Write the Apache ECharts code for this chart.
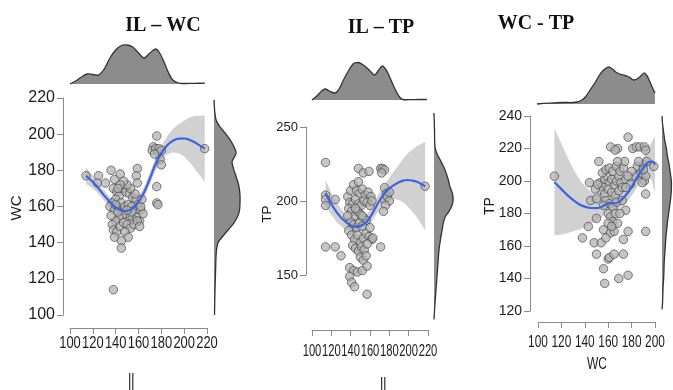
<!DOCTYPE html>
<html><head><meta charset="utf-8">
<script src="https://cdn.jsdelivr.net/npm/echarts@6/dist/echarts.min.js"></script>
<style>html,body{margin:0;padding:0;background:#fff}#c{width:673px;height:390px}</style>
</head><body><div id="c"></div>
<script>
// ---------- titles / names ----------
const titles = ['IL – WC', 'IL – TP', 'WC - TP'];
const xNames = ['IL', 'IL', 'WC'];
const yNames = ['WC', 'TP', 'TP'];

// ---------- scatter data ----------
const ilWc = [[114,177],[125,177],[124,173],[131,173],[136,180],[139,175],[144,178],[138,170],[141,168],[143,166],[146,170],[149,168],[152,167],[155,165],[158,164],[140,164],[137,162],[135,160],[139,158],[142,160],[145,162],[148,160],[151,161],[154,160],[157,158],[160,161],[162,158],[164,156],[161,152],[158,154],[155,153],[152,155],[149,156],[146,155],[143,154],[140,152],[137,150],[136,155],[138,147],[141,146],[139,143],[144,149],[147,151],[150,150],[153,148],[156,150],[159,152],[161,149],[148,146],[151,143],[145,141],[145,137],[138,114],[159,181],[158,177],[159,173],[162,160],[163,164],[157,167],[153,170],[150,172],[147,174],[144,172],[142,170],[176,199],[173,193],[172,191],[175,192],[177,190],[178,192],[180,191],[179,186],[180,183],[176,171],[176,162],[177,161],[218,192],[174,189],[154,157],[150,158],[142,157],[140,161]];
const ilTp = [[114,226],[114,204],[114,201],[114,197],[124,201],[114,169],[124,169],[130,163],[148,222],[153,219],[159,220],[171,222],[173,222],[175,221],[172,219],[175,209],[177,205],[175,201],[178,203],[180,200],[176,197],[174,193],[180,206],[171,169],[217,210],[137,203],[140,207],[143,211],[146,207],[149,205],[152,208],[155,204],[158,206],[161,203],[139,199],[142,198],[145,201],[148,198],[151,197],[154,200],[157,199],[160,197],[162,200],[138,195],[141,193],[144,190],[147,193],[150,191],[153,189],[156,187],[140,186],[143,184],[146,182],[149,185],[152,183],[138,180],[141,177],[144,174],[147,177],[150,172],[153,175],[156,178],[159,176],[162,174],[142,170],[145,168],[148,166],[151,169],[154,167],[157,171],[150,162],[153,160],[156,163],[139,155],[143,153],[147,152],[152,153],[157,156],[139,149],[141,145],[144,142],[157,137],[163,175],[160,182],[148,213],[152,190],[145,195],[137,190]];
const wcTp = [[114,203],[138,165],[144,199],[145,188],[143,172],[150,177],[150,155],[148,162],[152,212],[150,189],[154,162],[156,170],[156,146],[157,137],[160,152],[161,153],[165,155],[169,140],[173,155],[173,164],[177,142],[177,169],[175,182],[192,169],[192,192],[199,209],[162,221],[168,220],[166,219],[177,227],[181,220],[184,221],[187,221],[191,221],[192,219],[185,209],[188,205],[190,210],[191,200],[192,203],[189,199],[183,203],[186,212],[180,206],[193,212],[190,207],[153,199],[155,197],[157,201],[159,203],[161,199],[163,201],[165,197],[167,200],[169,203],[171,199],[155,205],[158,207],[161,208],[164,206],[167,209],[170,206],[173,208],[154,194],[157,192],[160,195],[163,193],[166,191],[169,194],[172,196],[158,188],[161,186],[164,184],[167,187],[160,180],[162,178],[164,175],[166,180],[168,174],[160,174],[162,168],[165,169],[158,165],[163,172],[175,201],[177,203],[179,198],[172,188],[170,180],[175,196],[149,195],[151,198],[156,185],[174,212],[168,212]];

// ---------- loess fits: x, fitted y, half width of band ----------
const fit1X = [114,120,125,130,135,140,145,150,155,160,165,170,175,180,185,190,195,200,205,210,215,218];
const fit1Y = [177,173.5,170,166,162.5,159.5,157.8,157.5,159,162.5,168,175.5,183.5,189.5,193.8,196.3,197.5,197.6,196.8,195.2,193.2,192];
const fit1H = [4.5,3.5,3,2.8,2.6,2.5,2.5,2.5,2.6,2.8,3,3.3,3.6,4,5,6.5,8,10,12.5,15,17,18.5];
const fit2X = [114,120,126,132,139,144.5,150,155,160,167,172,176,182,188,194,199,204,208.5,213,217];
const fit2Y = [205.4,198,192,187.5,184,182.6,183.2,185,189,197,202.5,206,209.5,212,213.8,214.2,213.8,213,211.5,210];
const fit2H = [9,7.5,6.5,5.5,4.5,4.2,4.2,4.5,5,5.5,5.5,6,8,11,14.5,18,21,24,27,30];
const fit3X = [114,120,125.6,131,136.8,145,150,154,158,161,164,168.9,172,176.6,181,185,189,192,195,197.7,200];
const fit3Y = [199.4,195,191,187.8,185,183.4,183.3,184,185.5,186.5,186.2,187,189,192.6,197.5,202.5,207,210,211.8,212,210];
const fit3H = [33,28,23,18.5,14.5,10,8,6.5,5.5,5,4.8,4.8,5,5.2,5.5,6,6.5,7.5,9.5,12.5,18];

// ---------- marginal densities: [value, relative height] ----------
const top1 = [[100,0],[105,3],[110,7],[115,10],[120,9.5],[125,9],[130,15],[135,26],[140,34],[145,38.5],[150,39],[155,37],[160,31],[165,26],[170,31],[175,35],[178,32],[182,23],[186,12],[190,4],[195,1],[200,0.5],[210,0.7],[218,0.8]];
const right1 = [[219,0],[214,0.5],[208,2],[204,6],[200.7,11],[197,16],[193,20],[189.6,22],[186,19],[184.6,18],[182,19],[180,20],[175,23],[171,25],[166,26],[162,26],[158,25.5],[155,24],[151,20],[147,14],[143,8],[140,4],[136,2.5],[132,2],[123,1.5],[114,1],[100,0.5]];
const top2 = [[100,0],[105,4],[110,9],[113.5,11],[118,9],[124,7],[128,11],[132,19],[137,28],[142.5,36],[147,37.5],[151.5,36],[155,33.5],[158,31],[162,27],[165,25],[169,30],[173,34],[176,31],[179,26],[183,17],[188,7],[191,2.5],[194,0.5],[200,0.3],[210,0.5],[219,0.5]];
const right2 = [[259.5,0],[248,0.5],[236.5,1],[232,3],[228,6],[224,9],[221,11],[215,14],[209.5,16],[206,18],[203,19],[200,19],[197,18],[193,15],[189,11],[184,9],[180,8],[174,6.5],[167,5],[158,4],[149,3],[140,2],[131,1],[120,0]];
const top3 = [[100,0],[110,0.8],[122,1.5],[130,1.5],[134,2],[138,4],[141,7],[145,14],[149.6,22],[153,29],[156.5,34],[160.7,37],[164,35],[166.6,32],[170,30],[173.5,29],[178,27],[182,24],[186,26],[190.6,31],[193,28.5],[195,24],[197.5,17],[200,11]];
const right3 = [[240,0],[235,1],[230,3],[225,5],[220,8],[215,10],[210,13],[205,15],[200,17],[195,17],[190,16],[185,14],[180,12],[175,10],[170,8.5],[165,7],[160,6],[155,5],[150,4],[145,3.5],[140,3],[135,2],[130,1.5],[125,1],[121,0]];

// ---------- tick ranges [min, max, step] ----------
const xRange = [[100,220,20],[100,220,20],[100,200,20]];
const yRange = [[100,220,20],[150,250,50],[120,240,20]];

const chart = echarts.init(document.getElementById('c'));
const AX = '#8a8a8a', TXT = '#1c1c1c';
const SANS = '"Liberation Sans",Arial,sans-serif';

const grids = [
  {left:70, top:98, width:137, height:217},   // 0 p1 scatter
  {left:70, top:43, width:137, height:41},    // 1 p1 top
  {left:214, top:98, width:28, height:217},   // 2 p1 right
  {left:312, top:127, width:116, height:148}, // 3 p2 scatter
  {left:312, top:60, width:116, height:40},   // 4 p2 top
  {left:434, top:127, width:20, height:148},  // 5 p2 right
  {left:538, top:116, width:117, height:195}, // 6 p3 scatter
  {left:537, top:65, width:118, height:39},   // 7 p3 top
  {left:662, top:116, width:20, height:195}   // 8 p3 right
];

const xOff = [13, 55, 11], yOff = [7, 6, 8];
const yFs = [16, 13, 14];
// x tick label look (condensed): font size, horizontal squeeze, distance below axis line
const xLabFs = [17, 16, 16.5], xLabSx = [0.76, 0.7, 0.72], xLabDy = [15, 22, 20];
const xAxes = [], yAxes = [];
function mainX(p, gi){
  const r = xRange[p];
  return {type:'value', gridIndex:gi, min:r[0], max:r[1], interval:r[2], offset:xOff[p],
    axisLine:{show:true, onZero:false, lineStyle:{color:AX}},
    axisTick:{show:true, length:6, lineStyle:{color:AX}},
    axisLabel:{show:false},
    splitLine:{show:false}};
}
function mainY(p, gi){
  const r = yRange[p];
  return {type:'value', gridIndex:gi, min:r[0], max:r[1], interval:r[2], offset:yOff[p],
    axisLine:{show:true, onZero:false, lineStyle:{color:AX}},
    axisTick:{show:true, length:6, lineStyle:{color:AX}},
    axisLabel:{color:TXT, fontSize:yFs[p], fontFamily:SANS, margin:8},
    splitLine:{show:false}};
}
function hid(gi, min, max){
  return {type:'value', gridIndex:gi, min, max, show:false, splitLine:{show:false}};
}
const topMax = [41, 40, 39], rightW = [28, 20, 20];
for (let p = 0; p < 3; p++) {
  const g = 3*p;
  xAxes.push(mainX(p, g)); yAxes.push(mainY(p, g));
  xAxes.push(hid(g+1, xRange[p][0], xRange[p][1])); yAxes.push(hid(g+1, 0, topMax[p]));
  xAxes.push(hid(g+2, 0, rightW[p])); yAxes.push(hid(g+2, yRange[p][0], yRange[p][1]));
}

function areaSeries(idx, pts, curve, fill, stroke, z){
  return {type:'custom', xAxisIndex:idx, yAxisIndex:idx, clip:false, silent:true, z:z,
    data: pts, encode:{x:0, y:1},
    renderItem: function(params, api){
      if (params.dataIndex !== 0) return null;
      const P = pts.map(q => api.coord(q));
      const children = [{type:'polygon', shape:{points:P}, style:{fill:fill, stroke:null}}];
      if (stroke) {
        const C = curve.map(q => api.coord(q));
        children.push({type:'polyline', shape:{points:C, smooth:0.35}, style:{stroke:stroke, lineWidth:1.3, fill:null}});
      }
      return {type:'group', children:children};
    }};
}

const series = [];
const scat = [ilWc, ilTp, wcTp];
const fits = [[fit1X,fit1Y,fit1H],[fit2X,fit2Y,fit2H],[fit3X,fit3Y,fit3H]];
const tops = [top1, top2, top3];
const rights = [right1, right2, right3];
for (let p = 0; p < 3; p++) {
  const g = 3*p;
  const [fx, fy, fh] = fits[p];
  const up = fx.map((x,i) => [x, fy[i] + fh[i]]);
  const lo = fx.map((x,i) => [x, fy[i] - fh[i]]).reverse();
  series.push(areaSeries(g, up.concat(lo), null, 'rgba(190,190,190,0.7)', null, 1));
  series.push({type:'scatter', xAxisIndex:g, yAxisIndex:g, data:scat[p], symbol:'circle', symbolSize:8.5, clip:false,
    itemStyle:{color:'rgba(178,178,178,0.92)', borderColor:'#3a3a3a', borderWidth:0.8}, z:2, silent:true});
  series.push({type:'line', xAxisIndex:g, yAxisIndex:g, data:fx.map((x,i)=>[x, fy[i]]), smooth:0.4, showSymbol:false,
    lineStyle:{color:'#3b63e0', width:2.2}, z:3, silent:true});
  const t = tops[p];
  const tPoly = [[t[0][0],0]].concat(t, [[t[t.length-1][0],0]]);
  series.push(areaSeries(g+1, tPoly, t, '#8c8c8c', '#333', 2));
  const r = rights[p].map(q => [q[1], q[0]]);
  const rPoly = [[0, r[0][1]]].concat(r, [[0, r[r.length-1][1]]]);
  series.push(areaSeries(g+2, rPoly, r, '#8c8c8c', '#333', 2));
}

const titlePos = [[163,25],[381,27],[536,23]];
const yNamePos = [[17,208],[267,214],[490,206]];
const yNameFs = [15, 13.5, 14];
function baseGraphics(){
  const gr = [];
  for (let p = 0; p < 3; p++) {
    gr.push({type:'text', x:titlePos[p][0], y:titlePos[p][1], scaleY:1.1, style:{text:titles[p], fill:'#111',
      font:'bold 20px "Liberation Serif","Times New Roman",serif', align:'center', verticalAlign:'middle'}});
    gr.push({type:'text', x:yNamePos[p][0], y:yNamePos[p][1], rotation:Math.PI/2, style:{text:yNames[p], fill:TXT,
      font: yNameFs[p] + 'px ' + SANS, align:'center', verticalAlign:'middle'}});
  }
  // x axis names (first two are cut by the bottom edge as in the reference)
  gr.push({type:'text', x:133, y:400, scaleX:0.8, scaleY:2, style:{text:xNames[0], fill:TXT, font:'15px ' + SANS, align:'center', verticalAlign:'bottom'}});
  gr.push({type:'text', x:385, y:403.5, scaleX:0.8, scaleY:2, style:{text:xNames[1], fill:TXT, font:'15px ' + SANS, align:'center', verticalAlign:'bottom'}});
  gr.push({type:'text', x:597, y:364, scaleX:0.8, scaleY:1.15, style:{text:xNames[2], fill:TXT, font:'15px ' + SANS, align:'center', verticalAlign:'middle'}});
  return gr;
}

chart.setOption({animation:false, backgroundColor:'#fff', grid:grids, xAxis:xAxes, yAxis:yAxes, series:series, graphic:baseGraphics()});

// condensed x tick labels placed with the axis scale
const gr = baseGraphics();
for (let p = 0; p < 3; p++) {
  const g = 3*p, r = xRange[p];
  const yLine = grids[g].top + grids[g].height + xOff[p];
  for (let v = r[0]; v <= r[1]; v += r[2]) {
    const px = chart.convertToPixel({xAxisIndex:g}, v);
    gr.push({type:'text', x:px, y:yLine + xLabDy[p], scaleX:xLabSx[p], style:{text:String(v), fill:TXT,
      font: xLabFs[p] + 'px ' + SANS, align:'center', verticalAlign:'middle'}});
  }
}
chart.setOption({graphic:gr});
</script></body></html>
